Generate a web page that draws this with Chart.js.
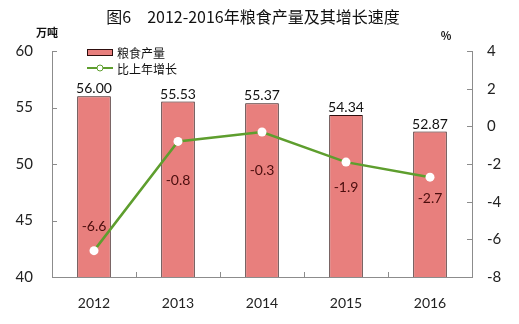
<!DOCTYPE html>
<html><head><meta charset="utf-8">
<script src="https://cdn.jsdelivr.net/npm/chart.js@4/dist/chart.umd.min.js"></script>
<style>html,body{margin:0;padding:0;background:#fff}#w{width:519px;height:324px}</style>
</head><body><div id="w"><canvas id="c"></canvas></div>
<script>
const categories = ['2012','2013','2014','2015','2016'];
const grainOutput = [56.00, 55.53, 55.37, 54.34, 52.87];
const growthRate = [-6.6, -0.8, -0.3, -1.9, -2.7];
const leftTicks = [40,45,50,55,60];
const rightTicks = [-8,-6,-4,-2,0,2,4];
const seriesNames = ['粮食产量','比上年增长'];
const titleText = '图6\u30002012-2016年粮食产量及其增长速度';

const NUMFONT = 'Lato, "Open Sans", sans-serif';
const CJK = '"Noto Sans CJK SC", sans-serif';
const AXIS = '#8c8c8c';
const BAR = '#e87f7d';
const BARB = '#2e0e0e';
const GREEN = '#5e9e2e';

const deco = {
  id: 'deco',
  afterDraw(chart) {
    const ctx = chart.ctx;
    const x = chart.scales.x, yl = chart.scales.y, yr = chart.scales.y1;
    ctx.save();
    ctx.strokeStyle = AXIS; ctx.lineWidth = 1;
    ctx.beginPath();
    const n = categories.length;
    for (let i = 1; i < n; i++) {
      const px = Math.round(x.left + i * (x.right - x.left) / n) + 0.5;
      ctx.moveTo(px, x.top); ctx.lineTo(px, x.top - 5);
    }
    yl.ticks.forEach((t, i) => {
      const py = Math.round(yl.getPixelForTick(i)) + 0.5;
      ctx.moveTo(yl.right, py); ctx.lineTo(yl.right + 5, py);
    });
    yr.ticks.forEach((t, i) => {
      const py = Math.round(yr.getPixelForTick(i)) + 0.5;
      ctx.moveTo(yr.left, py); ctx.lineTo(yr.left - 5, py);
    });
    ctx.stroke();
    ctx.fillStyle = '#111';
    ctx.font = '16px ' + CJK;
    ctx.textAlign = 'center'; ctx.textBaseline = 'middle';
    ctx.fillText(titleText, 253, 17);
    ctx.font = 'bold 11px ' + CJK;
    ctx.fillText('万吨', 47, 33);
    ctx.fillText('%', 446, 36);
    ctx.fillStyle = BAR; ctx.strokeStyle = BARB; ctx.lineWidth = 1;
    ctx.fillRect(87.5, 49.5, 25, 6); ctx.strokeRect(87.5, 49.5, 25, 6);
    ctx.strokeStyle = GREEN; ctx.lineWidth = 2;
    ctx.beginPath(); ctx.moveTo(87, 68); ctx.lineTo(113, 68); ctx.stroke();
    ctx.fillStyle = '#fff'; ctx.lineWidth = 1;
    ctx.beginPath(); ctx.arc(100, 68, 3, 0, Math.PI * 2); ctx.fill(); ctx.stroke();
    ctx.fillStyle = '#111'; ctx.textAlign = 'left';
    ctx.font = '12px ' + CJK;
    ctx.fillText(seriesNames[0], 117, 53);
    ctx.fillText(seriesNames[1], 117, 69);
    ctx.font = '14px ' + NUMFONT;
    ctx.textAlign = 'center'; ctx.textBaseline = 'alphabetic';
    const barMeta = chart.getDatasetMeta(0);
    barMeta.data.forEach((el, i) => {
      ctx.fillStyle = '#111';
      ctx.fillText(grainOutput[i].toFixed(2), el.x, el.y - 3);
    });
    const lineMeta = chart.getDatasetMeta(1);
    const offs = chart.options.plugins.deco.lineLabelOffsets;
    ctx.textBaseline = 'middle';
    lineMeta.data.forEach((el, i) => {
      ctx.fillStyle = '#4a0d0d';
      ctx.fillText(growthRate[i].toFixed(1), el.x, el.y + offs[i]);
    });
    ctx.restore();
  }
};

new Chart(document.getElementById('c'), {
  data: {
    labels: categories,
    datasets: [
      { type: 'bar', label: seriesNames[0], data: grainOutput, yAxisID: 'y',
        backgroundColor: BAR, borderColor: BARB, borderWidth: 1,
        barPercentage: 0.4, categoryPercentage: 1.0, order: 2 },
      { type: 'line', label: seriesNames[1], data: growthRate, yAxisID: 'y1',
        borderColor: GREEN, borderWidth: 2.5, pointRadius: 4.5,
        pointBackgroundColor: '#fff', pointBorderColor: '#fff', pointBorderWidth: 0,
        tension: 0, order: 1 }
    ]
  },
  options: {
    responsive: true, maintainAspectRatio: false, animation: false,
    layout: { padding: { top: 51, left: 0, right: 0, bottom: 0 } },
    plugins: { legend: { display: false }, tooltip: { enabled: false },
      deco: { lineLabelOffsets: [-24, 39, 39, 25, 21] } },
    scales: {
      x: { offset: true,
        grid: { display: false, drawTicks: false },
        border: { display: true, color: AXIS, width: 1 },
        ticks: { color: '#222', font: { family: NUMFONT, size: 14 }, padding: 18 },
        afterFit(s) { s.height = 47; } },
      y: { position: 'left', min: 40, max: 60,
        afterBuildTicks(s) { s.ticks = leftTicks.map(v => ({ value: v })); },
        grid: { display: false, drawTicks: false },
        border: { display: true, color: AXIS, width: 1 },
        ticks: { color: '#222', font: { family: NUMFONT, size: 15 }, padding: 19 },
        afterFit(s) { s.width = 52; } },
      y1: { position: 'right', min: -8, max: 4,
        afterBuildTicks(s) { s.ticks = rightTicks.map(v => ({ value: v })); },
        grid: { display: false, drawTicks: false },
        border: { display: true, color: AXIS, width: 1 },
        ticks: { color: '#222', font: { family: NUMFONT, size: 15 }, padding: 15 },
        afterFit(s) { s.width = 47; } }
    }
  },
  plugins: [deco]
});
</script></body></html>
